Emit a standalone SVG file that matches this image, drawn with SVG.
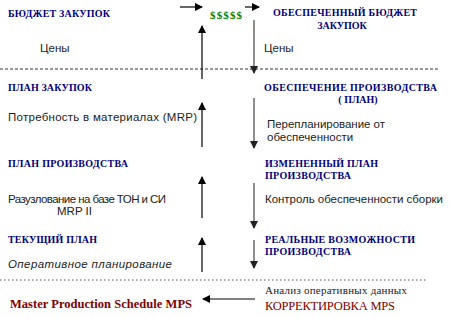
<svg xmlns="http://www.w3.org/2000/svg" width="450" height="318" viewBox="0 0 450 318">
<style>
.h{font-family:"Liberation Serif",serif;font-weight:bold;font-size:10px;fill:#000080}
.t{font-family:"Liberation Sans",Arial,sans-serif;font-size:11.5px;fill:#222}
.r{font-family:"Liberation Serif",serif;fill:#800000}
.a{stroke:#000;stroke-width:1.2;fill:none}
.g{stroke:#444;stroke-width:1.2;fill:none}
</style>
<defs>
<marker id="ah" markerWidth="8" markerHeight="8" refX="7" refY="4" orient="auto" markerUnits="userSpaceOnUse">
<path d="M0,0 L8,4 L0,8 Z" fill="#000"/>
</marker>
<marker id="ahg" markerWidth="8" markerHeight="8" refX="7" refY="4" orient="auto" markerUnits="userSpaceOnUse">
<path d="M0,0 L8,4 L0,8 Z" fill="#222"/>
</marker>
</defs>
<rect width="450" height="318" fill="#fff"/>
<g id="connectors">
<line x1="0" y1="69" x2="438" y2="69" stroke="#333" stroke-width="1" stroke-dasharray="3,2"/>
<line x1="0" y1="280" x2="426" y2="280" stroke="#555" stroke-width="1" stroke-dasharray="1.5,2.5"/>
<line class="a" x1="180" y1="7" x2="202" y2="7" marker-end="url(#ah)"/>
<line class="a" x1="245" y1="7" x2="259" y2="7" marker-end="url(#ah)"/>
<line class="a" x1="202" y1="79" x2="202" y2="26" marker-end="url(#ah)"/>
<line class="g" x1="254" y1="20" x2="254" y2="73" marker-end="url(#ahg)"/>
<line class="a" x1="202" y1="147" x2="202" y2="103" marker-end="url(#ah)"/>
<line class="g" x1="254" y1="98" x2="254" y2="148" marker-end="url(#ahg)"/>
<line class="a" x1="202" y1="218" x2="202" y2="177" marker-end="url(#ah)"/>
<line class="g" x1="254" y1="183" x2="254" y2="228" marker-end="url(#ahg)"/>
<line class="a" x1="202" y1="272" x2="202" y2="238" marker-end="url(#ah)"/>
<line class="g" x1="254" y1="240" x2="254" y2="268" marker-end="url(#ahg)"/>
<line class="a" x1="255" y1="299" x2="203" y2="299" marker-end="url(#ah)"/>
</g>
<g id="budget">
<text class="h" x="8" y="17" textLength="102">БЮДЖЕТ ЗАКУПОК</text>
<text class="t" x="40" y="52">Цены</text>
</g>
<g id="money">
<text x="210" y="19" font-family="Liberation Serif,serif" font-weight="bold" font-size="11px" fill="#008000" textLength="32">$$$$$</text>
</g>
<g id="secured-budget">
<text class="h" x="273" y="16" textLength="144">ОБЕСПЕЧЕННЫЙ БЮДЖЕТ</text>
<text class="h" x="342" y="29" text-anchor="middle">ЗАКУПОК</text>
<text class="t" x="264" y="52">Цены</text>
</g>
<g id="purchase-plan">
<text class="h" x="8" y="91" textLength="84">ПЛАН ЗАКУПОК</text>
<text class="t" x="8" y="121" textLength="189">Потребность в материалах (MRP)</text>
</g>
<g id="production-support">
<text class="h" x="264" y="91" textLength="173">ОБЕСПЕЧЕНИЕ ПРОИЗВОДСТВА</text>
<text class="h" x="358" y="103" text-anchor="middle">( ПЛАН)</text>
<text class="t" x="267" y="128" textLength="118">Перепланирование от</text>
<text class="t" x="267" y="141">обеспеченности</text>
</g>
<g id="production-plan">
<text class="h" x="8" y="167" textLength="120">ПЛАН ПРОИЗВОДСТВА</text>
<text class="t" x="8" y="203" font-size="10.5px" textLength="158">Разузлование на базе ТОН и СИ</text>
<text class="t" x="57" y="215" font-size="10.5px">MRP II</text>
</g>
<g id="changed-plan">
<text class="h" x="265" y="167" textLength="113">ИЗМЕНЕННЫЙ ПЛАН</text>
<text class="h" x="265" y="179" textLength="86">ПРОИЗВОДСТВА</text>
<text class="t" x="265" y="203" textLength="178">Контроль обеспеченности сборки</text>
</g>
<g id="current-plan">
<text class="h" x="8" y="243" textLength="89">ТЕКУЩИЙ ПЛАН</text>
<text class="t" x="8" y="268" font-style="italic" textLength="164">Оперативное планирование</text>
</g>
<g id="real-capacity">
<text class="h" x="265" y="243" textLength="150">РЕАЛЬНЫЕ ВОЗМОЖНОСТИ</text>
<text class="h" x="265" y="255" textLength="86">ПРОИЗВОДСТВА</text>
</g>
<g id="mps">
<text class="r" x="10" y="308" font-size="12.5px" font-weight="bold" textLength="182">Master Production Schedule MPS</text>
</g>
<g id="mps-correction">
<text x="265" y="294" font-family="Liberation Serif,serif" font-size="11px" fill="#222" textLength="142">Анализ оперативных данных</text>
<text class="r" x="265" y="310" font-size="12.5px" textLength="130">КОРРЕКТИРОВКА MPS</text>
</g>
</svg>
